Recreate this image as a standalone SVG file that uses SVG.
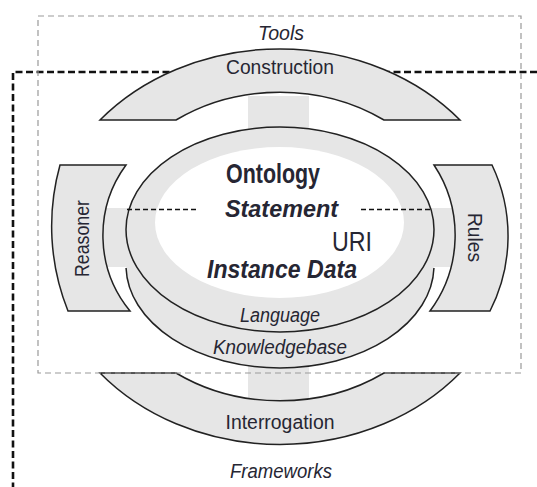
<svg xmlns="http://www.w3.org/2000/svg" width="537" height="487" viewBox="0 0 537 487">
<style>
.shape{fill:#e6e6e6;stroke:#222;stroke-width:1.5}
.fill{fill:#e6e6e6;stroke:none}
.line{fill:none;stroke:#222;stroke-width:1.5}
.dash{fill:none;stroke:#111;stroke-width:1.3;stroke-dasharray:5 3}
.bigdash{fill:none;stroke:#111;stroke-width:2.6;stroke-dasharray:7 3.5}
.box{fill:none;stroke:#999;stroke-width:1.2;stroke-dasharray:6 4}
text{font-family:"Liberation Sans",Arial,sans-serif;fill:#262633;text-anchor:middle}
.it{font-style:italic}
.b{font-weight:bold}
</style>
<rect width="537" height="487" fill="#fff"/>
<g id="connectors">
<path class="bigdash" d="M537,72 H13 V487"/>
<rect class="fill" x="248" y="96" width="61" height="40"/>
<rect class="fill" x="248" y="358" width="61" height="42"/>
<rect class="fill" x="100" y="208" width="33" height="59"/>
<rect class="fill" x="427" y="208" width="31" height="59"/>
</g>
<g id="construction">
<path class="shape" d="M100,120 A235 199 0 0 1 460,120 L384,120 A182 155 0 0 0 176,120 Z"/>
<text x="280" y="74" font-size="20" textLength="108" lengthAdjust="spacingAndGlyphs">Construction</text>
</g>
<g id="interrogation">
<path class="shape" d="M100,373 L176,373 A182 155 0 0 0 384,373 L460,373 A235 200 0 0 1 100,373 Z"/>
<text x="280" y="429" font-size="20" textLength="109" lengthAdjust="spacingAndGlyphs">Interrogation</text>
</g>
<g id="reasoner">
<path class="shape" d="M60,165 L126,165 A119 119 0 0 0 130,311 L68,311 A228 228 0 0 1 60,165 Z"/>
<text transform="translate(89,238.5) rotate(-90)" font-size="20" textLength="77" lengthAdjust="spacingAndGlyphs">Reasoner</text>
</g>
<g id="rules">
<path class="shape" d="M434,165 L492,165 A165 165 0 0 1 490,311 L430,311 A127 127 0 0 0 434,165 Z"/>
<text transform="translate(468,237.5) rotate(90)" font-size="20" textLength="49" lengthAdjust="spacingAndGlyphs">Rules</text>
</g>
<g id="knowledgebase">
<ellipse class="fill" cx="280" cy="265.5" rx="154" ry="102.5"/>
<path class="line" d="M126.05,268 A154 102.5 0 0 0 433.95,268"/>
<text class="it" x="280" y="354" font-size="20" textLength="134" lengthAdjust="spacingAndGlyphs">Knowledgebase</text>
</g>
<g id="language">
<ellipse class="shape" cx="280" cy="229.5" rx="154" ry="102.5"/>
<ellipse cx="279.5" cy="222.5" rx="124.5" ry="75.5" fill="#fff"/>
<path class="dash" d="M127,209.5 H199 M361,209.5 H432"/>
<text class="it" x="280" y="322" font-size="20" textLength="80" lengthAdjust="spacingAndGlyphs">Language</text>
</g>
<g id="ontology">
<text class="b" x="273" y="183" font-size="28" textLength="94" lengthAdjust="spacingAndGlyphs">Ontology</text>
</g>
<g id="statement">
<text class="b it" x="281.5" y="217" font-size="24" textLength="113" lengthAdjust="spacingAndGlyphs">Statement</text>
</g>
<g id="uri">
<text x="352" y="251" font-size="27" textLength="40" lengthAdjust="spacingAndGlyphs">URI</text>
</g>
<g id="instance">
<text class="b it" x="282" y="278" font-size="26" textLength="150" lengthAdjust="spacingAndGlyphs">Instance Data</text>
</g>
<g id="tools">
<rect class="box" x="38" y="16" width="483" height="357"/>
<text class="it" x="281" y="40" font-size="20" textLength="46" lengthAdjust="spacingAndGlyphs">Tools</text>
</g>
<g id="frameworks">
<text class="it" x="281" y="478" font-size="20" textLength="102" lengthAdjust="spacingAndGlyphs">Frameworks</text>
</g>
</svg>
